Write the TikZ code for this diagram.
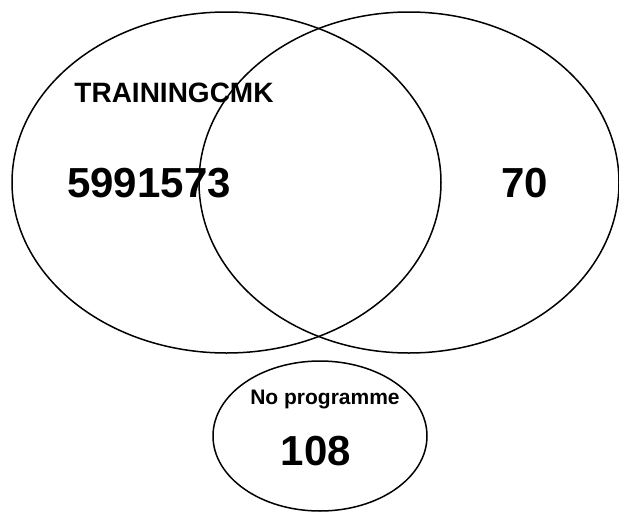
\documentclass[tikz,border=0pt]{standalone}
\usepackage{fontspec}
\setmainfont{Liberation Sans}
\usetikzlibrary{shapes}
\tikzstyle{set}=[ellipse,draw,line width=1.5pt,inner sep=0pt]
\tikzstyle{count}=[font=\bfseries\fontsize{42}{42}\selectfont,inner sep=0pt]
\tikzstyle{title}=[font=\bfseries\fontsize{28}{28}\selectfont,inner sep=0pt]
\tikzstyle{small}=[font=\bfseries\fontsize{21}{21}\selectfont,inner sep=0pt,anchor=base]

\begin{document}
\begin{tikzpicture}[x=1pt,y=-1pt]
    \useasboundingbox (0,0) rectangle (619,512);
    % First we draw the sets
    \foreach \pos/\name/\w/\h in {{(226.5,182.5)/training/429/341}, {(409,182.5)/cmk/420/341}, {(320,436)/none/214/150}}
        \node[set,minimum width=\w pt,minimum height=\h pt] (\name) at \pos {};
    % Then the labels and counts
    \node[title] (traininglabel) at (174,93) {TRAININGCMK};
    \node[count] (trainingonly) at (149,183) {5991573};
    \node[count] (cmkonly) at (525,183) {70};
    \node[small] (nonelabel) at (325,404) {No programme};
    \node[count] (nonecount) at (316,451) {108};
\end{tikzpicture}
\end{document}
